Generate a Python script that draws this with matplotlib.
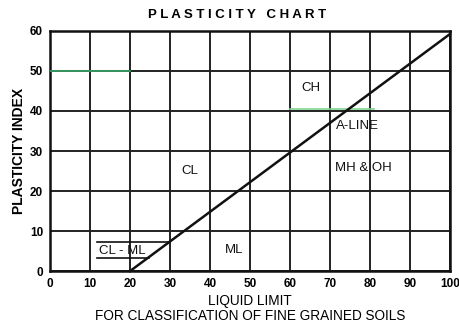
import matplotlib
matplotlib.use("Agg")
import matplotlib.pyplot as plt

plt.rcParams['font.family'] = ['Liberation Sans', 'DejaVu Sans']

# Data
a_line_ll = [20, 100]
a_line_pi = [0, 59.2]
clml_upper_ll = [11.7, 29.8]
clml_upper_pi = [7.2, 7.2]
clml_lower_ll = [11.7, 24.8]
clml_lower_pi = [3.4, 3.4]
green_ll_1 = [0, 20]
green_pi_1 = [50, 50]
green_ll_2 = [60, 81]
green_pi_2 = [40.4, 40.4]
x_ticks = [0, 10, 20, 30, 40, 50, 60, 70, 80, 90, 100]
y_ticks = [0, 10, 20, 30, 40, 50, 60]
zone_labels = ["CH", "A-LINE", "CL", "MH & OH", "ML", "CL - ML"]
zone_x = [65.3, 77.0, 35, 78.5, 46, 18]
zone_y = [45.7, 36.3, 25, 25.7, 5.3, 5.0]

fig = plt.figure(figsize=(4.59, 3.22), dpi=100)
ax = fig.add_axes([0.109, 0.158, 0.871, 0.746])
ax.set_xlim(0, 100)
ax.set_ylim(0, 60)
ax.set_xticks(x_ticks)
ax.set_yticks(y_ticks)
ax.grid(True, color='#222222', linewidth=1.4)
ax.set_axisbelow(True)
for s in ax.spines.values():
    s.set_linewidth(1.8)
    s.set_color('#111111')
ax.tick_params(length=0, pad=5, labelsize=8.5)
for lab in ax.get_xticklabels() + ax.get_yticklabels():
    lab.set_fontweight('bold')

ax.plot(green_ll_1, green_pi_1, color='#3aa86a', linewidth=1.2, zorder=3)
ax.plot(green_ll_2, green_pi_2, color='#7fd38f', linewidth=1.2, zorder=3)
ax.plot(a_line_ll, a_line_pi, color='#111111', linewidth=1.8, zorder=4, clip_on=False)
ax.plot(clml_upper_ll, clml_upper_pi, color='#111111', linewidth=1.2, zorder=4)
ax.plot(clml_lower_ll, clml_lower_pi, color='#111111', linewidth=1.2, zorder=4)

for t, x, y in zip(zone_labels, zone_x, zone_y):
    ax.text(x, y, t, ha='center', va='center', fontsize=9.5, color='#111111', zorder=5)

ax.set_xlabel("LIQUID LIMIT\nFOR CLASSIFICATION OF FINE GRAINED SOILS", fontsize=9.8, labelpad=3,
              linespacing=1.05)
ax.set_ylabel("PLASTICITY INDEX", fontsize=10, fontweight='bold', labelpad=3)
fig.text(0.517, 0.953, "P L A S T I C I T Y   C H A R T", ha='center', va='center',
         fontsize=9.5, fontweight='bold')

fig.savefig("out.png", dpi=100, facecolor='white')
